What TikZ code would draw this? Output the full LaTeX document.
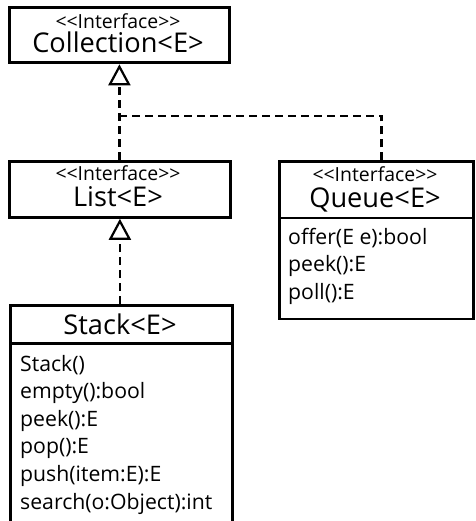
\documentclass[tikz,border=0pt]{standalone}
\usepackage{fontspec}
\setmainfont{Open Sans}
\usetikzlibrary{arrows.meta}

% two angle brackets kept apart so they do not fuse into a guillemet
\newcommand\stereotype[1]{<\kern0pt<#1>\kern0pt>}

\tikzset{
  umlbox/.style={draw, line width=2.8bp, inner sep=0pt, anchor=north west},
  dep/.style={line width=2.8bp, dash pattern=on 8bp off 5bp},
  realize/.style={dep, -{Triangle[open, length=21bp, width=22bp, line width=2.2bp]}},
  stereo/.style={font=\fontsize{19.5}{22}\selectfont, inner sep=0pt, anchor=base},
  classname/.style={font=\fontsize{27.3}{30}\selectfont, inner sep=0pt, anchor=base},
  meth/.style={font=\fontsize{21.3}{24}\selectfont, inner sep=0pt, anchor=base west},
}

\begin{document}
\begin{tikzpicture}[x=1bp, y=-1bp]
  \useasboundingbox (0,0) rectangle (476,521);
  \fill[white] (0,0) rectangle (476,521);
  \clip (0,0) rectangle (476,521);

  % class boxes
  \node[umlbox, minimum width=220bp, minimum height=55bp] (coll) at (8,6.5) {};
  \node[umlbox, minimum width=221bp, minimum height=56bp] (list) at (8,160) {};
  \node[umlbox, minimum width=194bp, minimum height=56bp] (queuehead) at (278,160.5) {};
  \node[umlbox, minimum width=194bp, minimum height=101bp] (queuebody) at (278,216.5) {};
  \node[umlbox, minimum width=222bp, minimum height=38bp] (stackhead) at (9,304) {};
  \node[umlbox, minimum width=222bp, minimum height=200bp] (stackbody) at (9,342) {};

  % headers
  \node[stereo] (coll-st) at (118,28.5) {\stereotype{Interface}};
  \node[classname] (coll-nm) at (118,53) {Collection<E>};
  \node[stereo] (list-st) at (118,180.5) {\stereotype{Interface}};
  \node[classname] (list-nm) at (118,207) {List<E>};
  \node[stereo] (queue-st) at (375,181.5) {\stereotype{Interface}};
  \node[classname] (queue-nm) at (375,208) {Queue<E>};
  \node[classname] (stack-nm) at (120,334) {Stack<E>};

  % operations
  \node[meth] (q1) at (288,244) {offer(E e):bool};
  \node[meth] (q2) at (288,271.5) {peek():E};
  \node[meth] (q3) at (288,299) {poll():E};

  \node[meth] (s1) at (20,371) {Stack()};
  \node[meth] (s2) at (20,398.6) {empty():bool};
  \node[meth] (s3) at (20,426.2) {peek():E};
  \node[meth] (s4) at (20,453.8) {pop():E};
  \node[meth] (s5) at (20,481.4) {push(item:E):E};
  \node[meth] (s6) at (20,509) {search(o:Object):int};

  % realizations
  \coordinate (fork) at (coll.south |- 0,116);
  \coordinate (qtop) at ([xshift=5bp]queuehead.north);
  \draw[realize] (list.north -| coll.south) -- (coll.south);
  \draw[dep] (qtop) |- (fork);
  \draw[realize] (stackhead.north -| list.south) -- (list.south);
\end{tikzpicture}
\end{document}
